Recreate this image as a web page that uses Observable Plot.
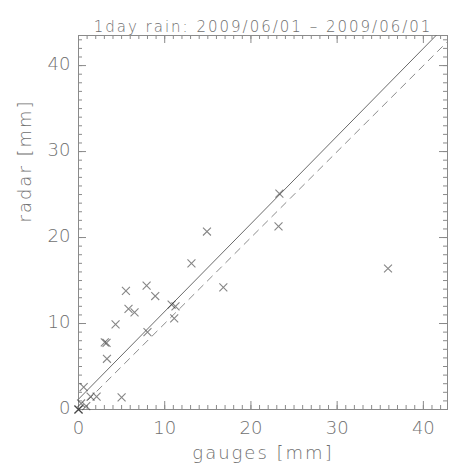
<!DOCTYPE html>
<html>
<head>
<meta charset="utf-8">
<script src="https://cdn.jsdelivr.net/npm/d3@7"></script>
<script src="https://cdn.jsdelivr.net/npm/@observablehq/plot@0.6"></script>
<style>
  html, body { margin: 0; padding: 0; background: #fff; }
  svg text { font-weight: 200; }
</style>
</head>
<body>
<div id="chart"></div>
<script>
// Data
const gauges = [23.3, 23.2, 35.9, 14.9, 13.1, 16.8, 7.9, 5.5, 8.9, 5.8, 6.5, 10.8, 11.25, 11.1, 4.3, 8.0, 3.05, 3.25, 3.3, 5.0, 0.6, 1.4, 2.1, 0.3, 0.9, 0.0, 0.0, 0.0];
const radar  = [25.1, 21.3, 16.4, 20.7, 17.0, 14.2, 14.4, 13.8, 13.2, 11.7, 11.3, 12.2, 12.0, 10.6, 9.9, 9.0, 7.8, 7.75, 5.9, 1.4, 2.6, 1.5, 1.5, 0.7, 0.4, 0.0, 0.0, 0.0];
const fitIntercept = 1.2;
const fitSlope = 1.02;
const majorTicks = [0, 10, 20, 30, 40];
const titleText = "1day rain: 2009/06/01 – 2009/06/01";
const xLabel = "gauges [mm]";
const yLabel = "radar [mm]";

const xDomain = [0, 42.8];
const yDomain = [0, 43.5];
const W = 450, H = 470, mL = 78, mR = 3, mT = 35, mB = 61;
const fw = W - mL - mR, fh = H - mT - mB;
const minorX = d3.range(0, 43);
const minorY = d3.range(0, 44);

const points = gauges.map((g, i) => ({g, r: radar[i]}));
const fitLine = [xDomain[0], xDomain[1]].map(x => ({x, y: fitIntercept + fitSlope * x}));
const oneToOne = [0, 50].map(v => ({x: v, y: v}));

const axisCol = "#8a8a8a";
const textCol = "#707070";

const chart = Plot.plot({
  width: W, height: H,
  marginLeft: mL, marginRight: mR, marginTop: mT, marginBottom: mB,
  x: {domain: xDomain, axis: null},
  y: {domain: yDomain, axis: null},
  style: {fontFamily: "'DejaVu Sans', sans-serif", background: "#fff"},
  marks: [
    // minor ticks
    Plot.ruleX(minorX, {x: d => d, insetTop: fh - 4, stroke: axisCol}),
    Plot.ruleX(minorX, {x: d => d, insetBottom: fh - 4, stroke: axisCol}),
    Plot.ruleY(minorY, {y: d => d, insetRight: fw - 4, stroke: axisCol}),
    Plot.ruleY(minorY, {y: d => d, insetLeft: fw - 4, stroke: axisCol}),
    // major ticks
    Plot.ruleX(majorTicks, {x: d => d, insetTop: fh - 8, stroke: axisCol}),
    Plot.ruleX(majorTicks, {x: d => d, insetBottom: fh - 8, stroke: axisCol}),
    Plot.ruleY(majorTicks, {y: d => d, insetRight: fw - 8, stroke: axisCol}),
    Plot.ruleY(majorTicks, {y: d => d, insetLeft: fw - 8, stroke: axisCol}),
    Plot.frame({stroke: axisCol}),
    // lines
    Plot.line(oneToOne, {x: "x", y: "y", stroke: "#8c8c8c", strokeWidth: 1, strokeDasharray: "7,6", clip: true}),
    Plot.line(fitLine, {x: "x", y: "y", stroke: "#6a6a6a", strokeWidth: 1, clip: true}),
    // points
    Plot.dot(points, {x: "g", y: "r", symbol: "times", r: 3.7, stroke: "#3a3a3a", strokeOpacity: 0.62, strokeWidth: 1.1}),
    // tick labels
    Plot.text(majorTicks, {x: d => d, frameAnchor: "bottom", dy: 24, text: d => String(d), fontSize: 18, fill: textCol}),
    Plot.text(majorTicks, {y: d => d, frameAnchor: "left", dx: -8, dy: -1, textAnchor: "end", text: d => String(d), fontSize: 18, fill: textCol}),
    // axis labels and title
    Plot.text([xLabel], {frameAnchor: "bottom", dy: 49, text: d => d, fontSize: 18, fill: textCol}),
    Plot.text([yLabel], {frameAnchor: "left", dx: -53, rotate: -90, text: d => d, fontSize: 18, fill: textCol}),
    Plot.text([titleText], {frameAnchor: "top", dy: -14, text: d => d, fontSize: 15, fill: textCol})
  ]
});
document.getElementById("chart").appendChild(chart);
const spaced = new Set([titleText, xLabel, yLabel]);
d3.select(chart).selectAll("text")
  .filter(function() { return spaced.has(this.textContent); })
  .style("letter-spacing", "2px");
</script>
</body>
</html>
